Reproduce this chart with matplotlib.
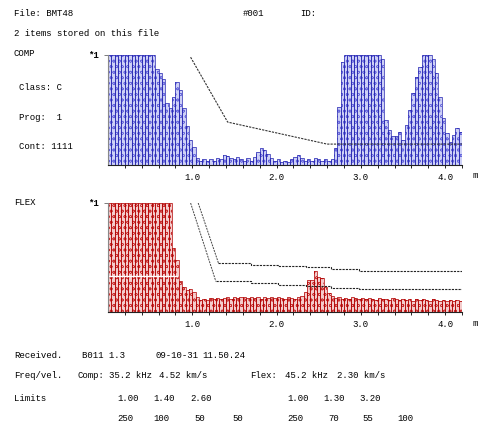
import matplotlib.pyplot as plt
import numpy as np

W, H = 480, 423
BIN = 0.04  # m per bar

# COMP envelope (fraction of *1), one value per 0.04 m from 0.0 to 4.2 m
comp = [1.0, 1.0, 1.0, 1.0, 1.0, 1.0, 1.0, 1.0, 1.0, 1.0, 1.0, 1.0, 1.0, 1.0,
        0.87, 0.84, 0.78, 0.56, 0.52, 0.62, 0.75, 0.68, 0.52, 0.35, 0.23, 0.16, 0.06,
        0.04, 0.05, 0.04, 0.05, 0.04, 0.06, 0.05,
        0.09, 0.08, 0.06,
        0.05, 0.07, 0.05, 0.04, 0.06, 0.04, 0.07,
        0.12, 0.15, 0.14, 0.10,
        0.06, 0.04, 0.05, 0.03, 0.04, 0.03, 0.05,
        0.07, 0.09, 0.06,
        0.04, 0.05, 0.04, 0.06, 0.05, 0.04, 0.05, 0.04, 0.05,
        0.15, 0.53, 0.94,
        1.0, 1.0, 1.0, 1.0, 1.0, 1.0, 1.0, 1.0, 1.0, 1.0, 1.0,
        0.96, 0.41, 0.32, 0.26, 0.26, 0.30, 0.23, 0.36, 0.50, 0.65,
        0.80, 0.89, 1.0, 1.0, 1.0, 0.96, 0.84, 0.62, 0.43, 0.29,
        0.21, 0.27, 0.34, 0.30]

# FLEX envelope
flex = [1.0, 1.0, 1.0, 1.0, 1.0, 1.0, 1.0, 1.0, 1.0, 1.0,
        1.0, 1.0, 1.0, 1.0, 1.0, 1.0, 1.0, 1.0, 1.0,
        0.59, 0.48, 0.28, 0.23, 0.20, 0.21, 0.18, 0.14, 0.11,
        0.12, 0.11, 0.13, 0.12, 0.13, 0.12, 0.13, 0.14, 0.12, 0.14,
        0.13, 0.14, 0.14, 0.13, 0.14, 0.13, 0.14, 0.12, 0.14, 0.13,
        0.14, 0.13, 0.14, 0.13, 0.12, 0.14, 0.13, 0.12, 0.14, 0.15,
        0.18, 0.29, 0.29, 0.38, 0.32, 0.31, 0.23, 0.17,
        0.15, 0.13, 0.14, 0.12, 0.13, 0.12, 0.14, 0.13, 0.12, 0.13,
        0.12, 0.13, 0.12, 0.11, 0.13, 0.12, 0.12, 0.11, 0.13, 0.12,
        0.11, 0.12, 0.11, 0.12, 0.10, 0.12, 0.11, 0.12, 0.11, 0.10,
        0.12, 0.11, 0.10, 0.11, 0.10, 0.11, 0.10, 0.11, 0.10]

# limit curves
comp_lim_x = [0.98, 1.42, 2.60, 4.20]
comp_lim_y = [0.98, 0.39, 0.19, 0.19]
flex_up_x = [1.07, 1.31, 1.70, 2.02, 2.35, 2.65, 2.98, 4.20]
flex_up_y = [1.00, 0.45, 0.43, 0.42, 0.41, 0.39, 0.38, 0.38]
flex_lo_x = [0.98, 1.28, 1.70, 2.02, 2.35, 2.65, 2.98, 4.20]
flex_lo_y = [1.00, 0.28, 0.27, 0.25, 0.24, 0.22, 0.21, 0.21]

major_ticks = [1.0, 2.0, 3.0, 4.0]
minor_ticks = [0.2, 0.4, 0.6, 0.8, 1.2, 1.4, 1.6, 1.8, 2.2, 2.4, 2.6, 2.8,
               3.2, 3.4, 3.6, 3.8, 4.2]

FONT = 'Liberation Mono'
FS = 6.5
plt.rcParams['hatch.linewidth'] = 0.45

fig = plt.figure(figsize=(W / 100, H / 100), dpi=100)


def px(x, y):
    return x / W, 1 - y / H


def txt(x, y, s, **kw):
    fig.text(*px(x, y), s, family=FONT, fontsize=FS, va='center', **kw)


def panel(top, bottom, vals, face, hatch_col, edge, lines, stepped):
    ax = fig.add_axes([108 / W, 1 - bottom / H, 354 / W, (bottom - top) / H])
    x = np.arange(len(vals)) * BIN
    ax.bar(x, vals, width=BIN, align='edge', color=face, edgecolor=hatch_col,
           hatch='ooo', linewidth=0)
    ax.bar(x, vals, width=BIN, align='edge', color='none', edgecolor=edge,
           linewidth=0.5)
    for lx, ly in lines:
        if stepped:
            ax.plot(lx[:2], ly[:2], color='#444444', lw=0.7, ls=(0, (2, 1)), zorder=3)
            ax.step(lx[1:], ly[1:], where='post', color='#222222', lw=0.8,
                    ls=(0, (2, 1)), zorder=3)
        else:
            ax.plot(lx, ly, color='#333333', lw=0.8, ls=(0, (2, 1)), zorder=3)
    ax.set_xlim(0, 4.2)
    ax.set_ylim(0, 1.0)
    for s in ['top', 'right']:
        ax.spines[s].set_visible(False)
    ax.spines['left'].set_color('#888888')
    ax.spines['bottom'].set_color('#222222')
    ax.spines['bottom'].set_linewidth(0.8)
    ax.set_yticks([1.0])
    ax.set_yticklabels([''])
    ax.tick_params(axis='y', direction='out', length=3, width=0.6, color='#666666')
    ax.set_xticks(major_ticks)
    ax.set_xticks(minor_ticks, minor=True)
    ax.set_xticklabels(['%.1f' % t for t in major_ticks], family=FONT, fontsize=FS)
    ax.tick_params(axis='x', which='both', direction='out', length=2.5, width=0.6,
                   pad=3)
    ax.patch.set_alpha(0)
    return ax


ax1 = panel(55, 165, comp, '#cdd0f6', '#6868dc', '#2424b0',
            [(comp_lim_x, comp_lim_y)], False)
ax2 = panel(203, 312, flex, '#f4cccc', '#c83030', '#b00000',
            [(flex_up_x, flex_up_y), (flex_lo_x, flex_lo_y)], True)
ax2.hlines(0.33, 0, 0.83, color='white', lw=1.0)

# header text
txt(14, 14, 'File: BMT48')
txt(243, 14, '#001')
txt(300, 14, 'ID:')
txt(14, 34, '2 items stored on this file')
txt(14, 54, 'COMP')
txt(88, 55, '*1', fontweight='bold')
txt(19, 87, 'Class: C')
txt(19, 117, 'Prog:  1')
txt(19, 146, 'Cont: 1111')
txt(14, 202, 'FLEX')
txt(88, 203, '*1', fontweight='bold')
txt(473, 176, 'm')
txt(473, 323, 'm')

# footer text
txt(14, 355, 'Received.')
txt(82, 355, 'B011 1.3')
txt(156, 355, '09-10-31')
txt(202, 355, '11.50.24')
txt(14, 376, 'Freq/vel.')
txt(78, 376, 'Comp:')
txt(109, 376, '35.2 kHz')
txt(159, 376, '4.52 km/s')
txt(250, 376, 'Flex:')
txt(285, 376, '45.2 kHz')
txt(337, 376, '2.30 km/s')

limits_x = [117, 153, 190, 287, 323, 359]
limits_top = ['1.00', '1.40', '2.60', '1.00', '1.30', '3.20']
counts_x = [117, 153, 194, 232, 287, 328, 362, 397]
counts = ['250', '100', '50', '50', '250', '70', '55', '100']
txt(14, 398, 'Limits')
for xx, s in zip(limits_x, limits_top):
    txt(xx, 398, s)
for xx, s in zip(counts_x, counts):
    txt(xx, 418, s)

fig.savefig('out.png', dpi=100)
